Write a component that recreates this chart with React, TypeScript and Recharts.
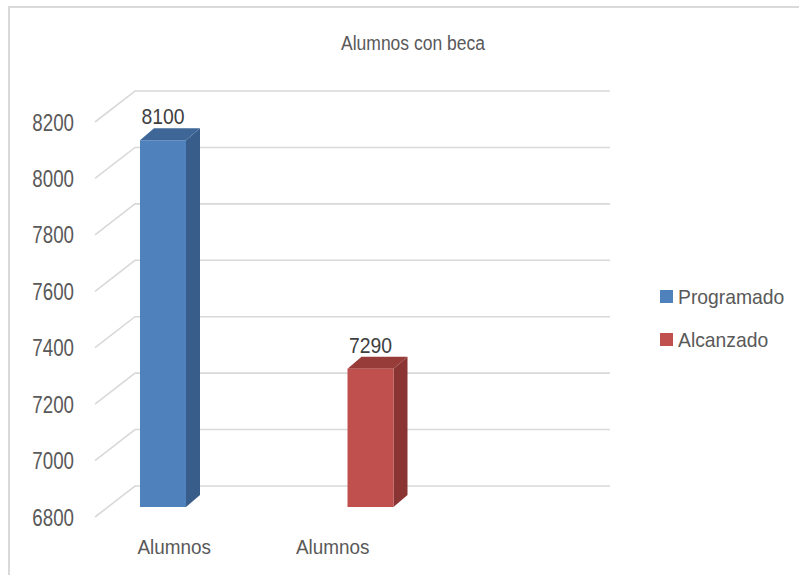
import React from "react"
import { BarChart, Bar, XAxis, YAxis, CartesianGrid, Legend, LabelList } from "recharts"

const categories = ["Alumnos", "Alumnos"]
const programado = [8100, null]
const alcanzado = [null, 7290]
const yTicks = [6800, 7000, 7200, 7400, 7600, 7800, 8000, 8200]

const series = [
  { key: "programado", name: "Programado", front: "#4F81BD", side: "#385D8A", top: "#3E6797" },
  { key: "alcanzado", name: "Alcanzado", front: "#C0504D", side: "#8A3533", top: "#973C39" },
]

const data = categories.map((category, i) => ({
  category,
  programado: programado[i],
  alcanzado: alcanzado[i],
}))

const FONT = "'Liberation Sans', Arial, sans-serif"
const TEXT = "#595959"
const GRID = "#D9D9D9"

// fake 3d: bars sit half way into the box, back wall is further in
const SHIFT_X = 13
const SHIFT_Y = -10
const DEPTH_X = 14
const DEPTH_Y = 12
const WALL_X = 40
const WALL_Y = 31

function makeBox(s: (typeof series)[number]) {
  return (props: any) => {
    const { x, y, width, height, payload } = props
    if (payload == null || payload[s.key] == null || !height) return <g />
    const fx = x + SHIFT_X
    const fy = y + SHIFT_Y
    const top = `${fx},${fy} ${fx + DEPTH_X},${fy - DEPTH_Y} ${fx + width + DEPTH_X},${fy - DEPTH_Y} ${fx + width},${fy}`
    const side = `${fx + width},${fy} ${fx + width + DEPTH_X},${fy - DEPTH_Y} ${fx + width + DEPTH_X},${fy + height - DEPTH_Y} ${fx + width},${fy + height}`
    return (
      <g>
        <polygon points={side} fill={s.side} />
        <polygon points={top} fill={s.top} />
        <rect x={fx} y={fy} width={width} height={height} fill={s.front} />
      </g>
    )
  }
}

function makeLabel() {
  return (props: any) => {
    const { x, y, width, value } = props
    if (value == null) return null
    const cx = x + SHIFT_X + width / 2
    const cy = y + SHIFT_Y - 24
    return (
      <text
        transform={`translate(${cx},${cy}) scale(0.88,1)`}
        textAnchor="middle"
        dy="0.36em"
        fontFamily={FONT}
        fontSize={22}
        fill="#404040"
      >
        {value}
      </text>
    )
  }
}

const YTick = (props: any) => {
  const { x, y, payload } = props
  return (
    <text
      transform={`translate(${x},${y}) scale(0.78,1)`}
      textAnchor="end"
      dy="0.36em"
      fontFamily={FONT}
      fontSize={24}
      fill={TEXT}
    >
      {payload.value}
    </text>
  )
}

const XTick = (props: any) => {
  const { x, y, payload } = props
  return (
    <text
      transform={`translate(${x},${y}) scale(0.9,1)`}
      textAnchor="middle"
      dy="0.71em"
      fontFamily={FONT}
      fontSize={21}
      fill={TEXT}
    >
      {payload.value}
    </text>
  )
}

const gridLine = (props: any) => {
  const { x1, x2, y1, index } = props
  const pts = `${x1},${y1} ${x1 + WALL_X},${y1 - WALL_Y} ${x2 + WALL_X},${y1 - WALL_Y}`
  return <polyline key={`grid-${index}`} points={pts} fill="none" stroke={GRID} strokeWidth={1.6} />
}

const LegendBox = () => (
  <div style={{ fontFamily: FONT, fontSize: 21, color: TEXT }}>
    {series.map((s) => (
      <div key={s.key} style={{ display: "flex", alignItems: "center", height: 43 }}>
        <span style={{ display: "inline-block", width: 13, height: 13, background: s.front, marginRight: 5 }} />
        <span style={{ display: "inline-block", transform: "scaleX(0.92)", transformOrigin: "left center" }}>
          {s.name}
        </span>
      </div>
    ))}
  </div>
)

export default function App() {
  return (
    <div style={{ position: "absolute", left: 0, top: 0, width: 799, height: 575, background: "#fff" }}>
      <div
        style={{
          position: "absolute",
          left: 8,
          top: 6,
          right: 0,
          bottom: 0,
          borderLeft: `2px solid ${GRID}`,
          borderTop: `2px solid ${GRID}`,
        }}
      />
      <div
        style={{
          position: "absolute",
          left: 413,
          top: 33,
          fontFamily: FONT,
          fontSize: 20,
          lineHeight: "20px",
          color: TEXT,
          whiteSpace: "nowrap",
          transform: "translateX(-50%) scaleX(0.875)",
        }}
      >
        Alumnos con beca
      </div>
      <BarChart
        width={799}
        height={575}
        data={data}
        margin={{ top: 122, right: 90, bottom: 28, left: 0 }}
        barSize={46}
        barGap={3}
      >
        <CartesianGrid vertical={false} horizontal={gridLine} />
        <XAxis
          dataKey="category"
          height={30}
          tickSize={0}
          tickMargin={22}
          axisLine={false}
          tickLine={false}
          interval={0}
          padding={{ left: 0, right: 158 }}
          tick={<XTick />}
        />
        <YAxis
          width={95}
          domain={[6800, 8200]}
          ticks={yTicks}
          tickSize={0}
          tickMargin={21}
          axisLine={false}
          tickLine={false}
          tick={<YTick />}
        />
        <Legend
          layout="vertical"
          align="right"
          verticalAlign="middle"
          wrapperStyle={{ left: 660, top: 275, width: 139 }}
          content={<LegendBox />}
        />
        {series.map((s) => (
          <Bar key={s.key} dataKey={s.key} name={s.name} fill={s.front} shape={makeBox(s)} isAnimationActive={false}>
            <LabelList dataKey={s.key} content={makeLabel()} />
          </Bar>
        ))}
      </BarChart>
    </div>
  )
}
